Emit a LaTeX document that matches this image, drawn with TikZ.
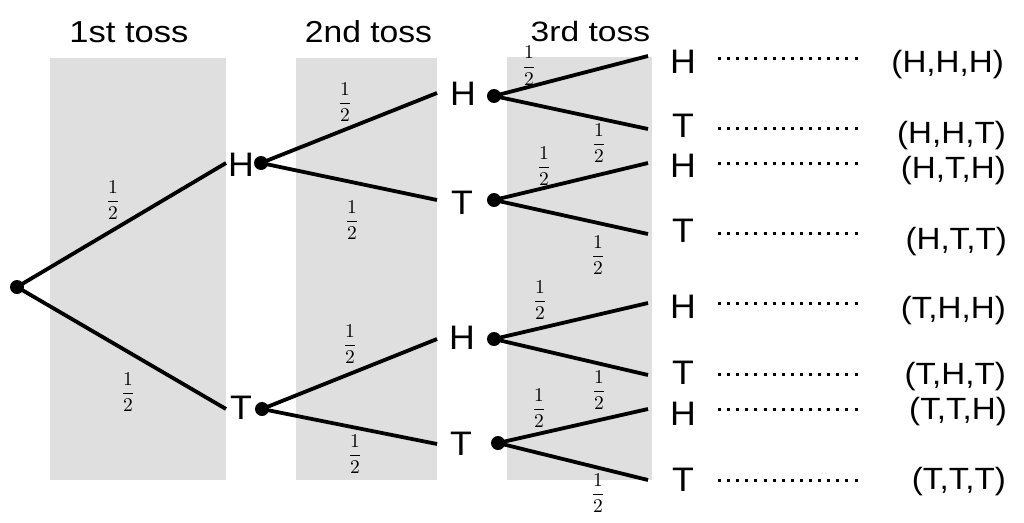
\documentclass[tikz,border=0pt]{standalone}
\usepackage{fontspec}
\usepackage{graphicx}
\newfontfamily\arialfam{Liberation Sans}
\definecolor{boxgray}{RGB}{223,223,223}
\newcommand{\stxt}[3]{{\arialfam\fontsize{#2}{#2}\selectfont\scalebox{#1}[1]{#3}}}
\newcommand{\half}{\scalebox{1.95}{$\displaystyle\frac{1}{2}$}}
\newcommand{\lt}[1]{\stxt{1.05}{34}{#1}}
\newcommand{\oc}[1]{\stxt{1.08}{30.7}{#1}}
\begin{document}
\begin{tikzpicture}[x=1pt,y=-1pt,
  edge/.style={line width=3.8pt},
  dotnode/.style={circle, fill=black, inner sep=0pt, minimum size=14pt},
  txt/.style={anchor=base, inner sep=0pt},
  outc/.style={anchor=base east, inner sep=0pt},
  frac/.style={inner sep=0pt},
  dotline/.style={line width=3pt, dash pattern=on 3pt off 6.1pt},
  panel/.style={fill=boxgray, draw=none}]
\useasboundingbox (0,0) rectangle (1024,522);
% panels
\fill[panel] (50,58) rectangle (226,480);
\fill[panel] (296,58) rectangle (437,480);
\fill[panel] (507,57) rectangle (652,480);
% titles
\node[txt] (t1) at (129,42) {\stxt{1.14}{30.3}{1st toss}};
\node[txt] (t2) at (368.5,42) {\stxt{1.11}{30.3}{2nd toss}};
\node[txt] (t3) at (590.5,41) {\stxt{1.2}{28}{3rd toss}};
% dots
\node[dotnode] (r) at (17,287) {};
\node[dotnode] (a1) at (261,163) {};
\node[dotnode] (a2) at (262,409) {};
\node[dotnode] (b1) at (494,96) {};
\node[dotnode] (b2) at (494,200) {};
\node[dotnode] (b3) at (494,339) {};
\node[dotnode] (b4) at (498,443) {};
% branch end points
\coordinate (ea1) at (226,163);
\coordinate (ea2) at (226,409);
\coordinate (eb1) at (437,93);
\coordinate (eb2) at (437,200);
\coordinate (eb3) at (437,339);
\coordinate (eb4) at (437,444);
\coordinate (ec1) at (648,56);
\coordinate (ec2) at (648,129);
\coordinate (ec3) at (648,163);
\coordinate (ec4) at (648,234);
\coordinate (ec5) at (648,303);
\coordinate (ec6) at (648,375);
\coordinate (ec7) at (648,409);
\coordinate (ec8) at (648,480);
% edges
\draw[edge] (r.center) -- (ea1);
\draw[edge] (r.center) -- (ea2);
\draw[edge] (a1.center) -- (eb1);
\draw[edge] (a1.center) -- (eb2);
\draw[edge] (a2.center) -- (eb3);
\draw[edge] (a2.center) -- (eb4);
\draw[edge] (b1.center) -- (ec1);
\draw[edge] (b1.center) -- (ec2);
\draw[edge] (b2.center) -- (ec3);
\draw[edge] (b2.center) -- (ec4);
\draw[edge] (b3.center) -- (ec5);
\draw[edge] (b3.center) -- (ec6);
\draw[edge] (b4.center) -- (ec7);
\draw[edge] (b4.center) -- (ec8);
% tree labels
\node[txt] (la1) at (241,176) {\lt{H}};
\node[txt] (la2) at (241,419) {\lt{T}};
\node[txt] (lb1) at (463,105) {\lt{H}};
\node[txt] (lb2) at (462,214) {\lt{T}};
\node[txt] (lb3) at (462,349) {\lt{H}};
\node[txt] (lb4) at (461,455) {\lt{T}};
\node[txt] (lc1) at (683,73) {\lt{H}};
\node[txt] (lc2) at (683,137) {\lt{T}};
\node[txt] (lc3) at (683,177.5) {\lt{H}};
\node[txt] (lc4) at (683,242.5) {\lt{T}};
\node[txt] (lc5) at (683,318.5) {\lt{H}};
\node[txt] (lc6) at (683,384.5) {\lt{T}};
\node[txt] (lc7) at (683,425) {\lt{H}};
\node[txt] (lc8) at (683,491.5) {\lt{T}};
% dotted leaders
\foreach \i/\y in {1/58,2/128,3/163,4/233,5/303,6/374,7/409,8/480}{
  \coordinate (ds\i) at (718,\y);
  \coordinate (de\i) at (858,\y);
  \draw[dotline] (ds\i) -- (de\i);
}
% outcomes
\node[outc] (o1) at (1004,72) {\oc{(H,H,H)}};
\node[outc] (o2) at (1006,143) {\oc{(H,H,T)}};
\node[outc] (o3) at (1006,178) {\oc{(H,T,H)}};
\node[outc] (o4) at (1007,249) {\oc{(H,T,T)}};
\node[outc] (o5) at (1006,318) {\oc{(T,H,H)}};
\node[outc] (o6) at (1006,384) {\oc{(T,H,T)}};
\node[outc] (o7) at (1007,419) {\oc{(T,T,H)}};
\node[outc] (o8) at (1006,489) {\oc{(T,T,T)}};
% probabilities
\node[frac] (p1) at (113,200) {\half};
\node[frac] (p2) at (128,392) {\half};
\node[frac] (p3) at (345,102) {\half};
\node[frac] (p4) at (352,220) {\half};
\node[frac] (p5) at (350,344) {\half};
\node[frac] (p6) at (355,454) {\half};
\node[frac] (p7) at (529,66) {\half};
\node[frac] (p8) at (599,143) {\half};
\node[frac] (p9) at (544,166) {\half};
\node[frac] (p10) at (598,255) {\half};
\node[frac] (p11) at (540,300) {\half};
\node[frac] (p12) at (599,390) {\half};
\node[frac] (p13) at (539,408) {\half};
\node[frac] (p14) at (598,493) {\half};
\end{tikzpicture}
\end{document}
